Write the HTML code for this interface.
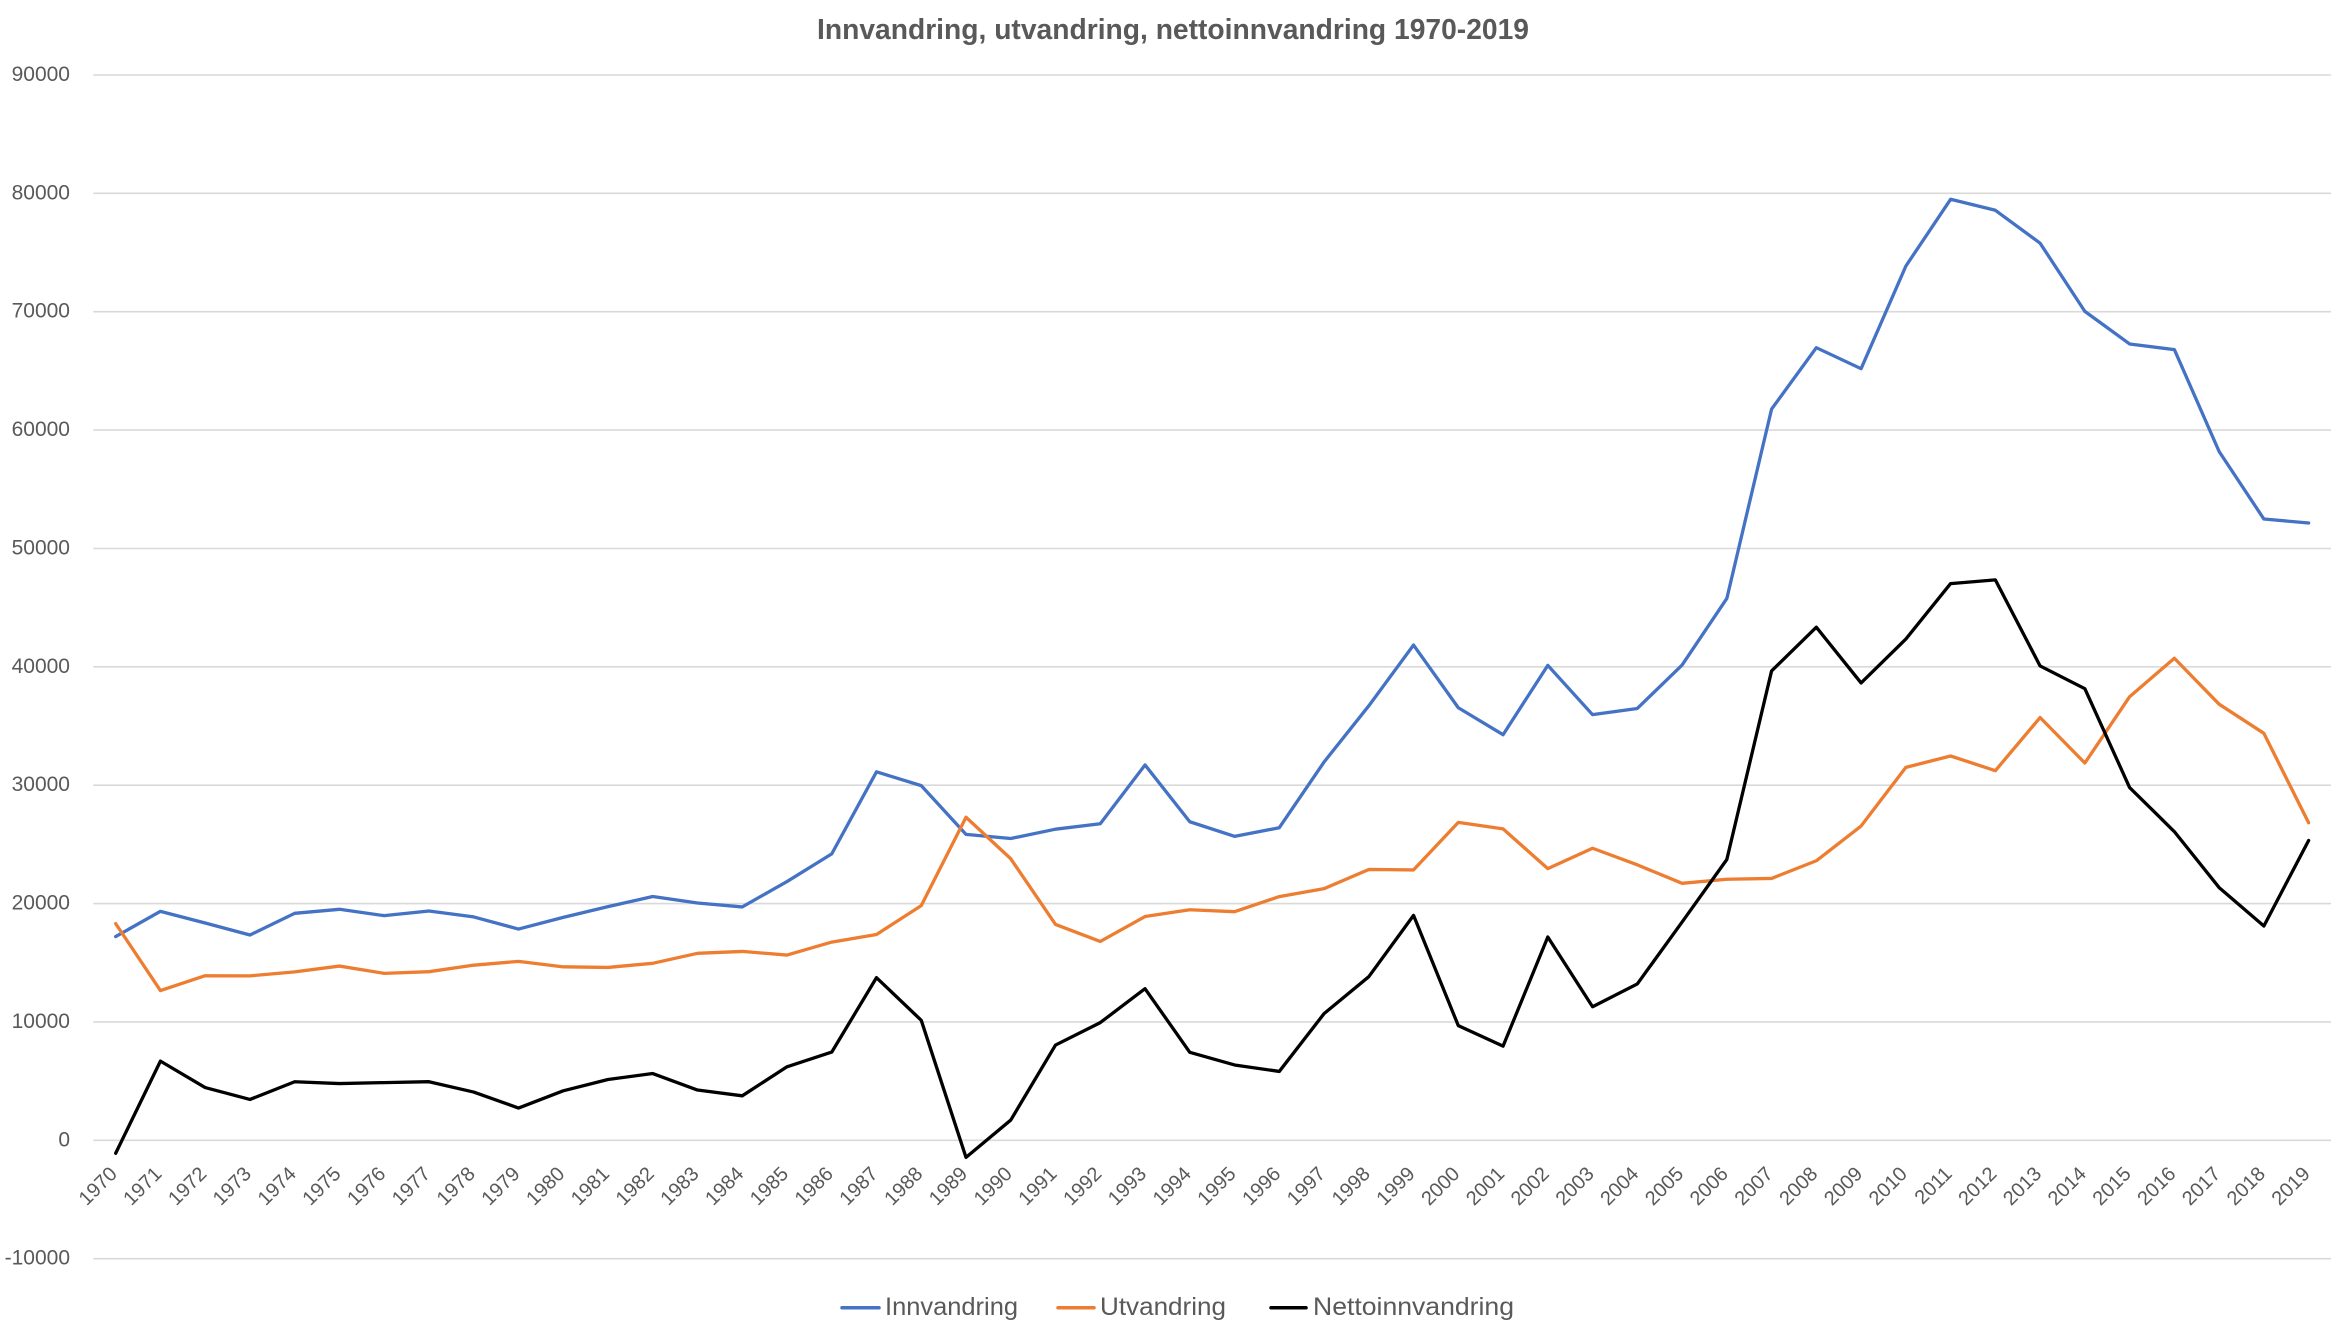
<!DOCTYPE html>
<html>
<head>
<meta charset="utf-8">
<style>
html,body{margin:0;padding:0;background:#fff;}
svg{display:block;}
</style>
</head>
<body>
<svg xmlns="http://www.w3.org/2000/svg" width="2346" height="1338" viewBox="0 0 2346 1338" font-family="'Liberation Sans', Arial, sans-serif">
<rect x="0" y="0" width="2346" height="1338" fill="#ffffff"/>

<!-- Title -->
<text x="1173" y="39" text-anchor="middle" font-weight="bold" font-size="29" fill="#595959" textLength="712" lengthAdjust="spacingAndGlyphs">Innvandring, utvandring, nettoinnvandring 1970-2019</text>

<!-- Gridlines -->
<g stroke="#D9D9D9" stroke-width="1.6">
<line x1="93.3" y1="75.0" x2="2331" y2="75.0"/>
<line x1="93.3" y1="193.3" x2="2331" y2="193.3"/>
<line x1="93.3" y1="311.7" x2="2331" y2="311.7"/>
<line x1="93.3" y1="430.1" x2="2331" y2="430.1"/>
<line x1="93.3" y1="548.5" x2="2331" y2="548.5"/>
<line x1="93.3" y1="666.8" x2="2331" y2="666.8"/>
<line x1="93.3" y1="785.2" x2="2331" y2="785.2"/>
<line x1="93.3" y1="903.6" x2="2331" y2="903.6"/>
<line x1="93.3" y1="1021.9" x2="2331" y2="1021.9"/>
<line x1="93.3" y1="1140.3" x2="2331" y2="1140.3"/>
<line x1="93.3" y1="1258.7" x2="2331" y2="1258.7"/>
</g>

<!-- Y axis labels -->
<g font-size="21" fill="#595959" text-anchor="end">
<text x="70" y="81">90000</text>
<text x="70" y="199.3">80000</text>
<text x="70" y="317.7">70000</text>
<text x="70" y="436.1">60000</text>
<text x="70" y="554.5">50000</text>
<text x="70" y="672.8">40000</text>
<text x="70" y="791.2">30000</text>
<text x="70" y="909.6">20000</text>
<text x="70" y="1027.9">10000</text>
<text x="70" y="1146.3">0</text>
<text x="70" y="1264.7">-10000</text>
</g>

<!-- Series -->
<g transform="matrix(44.754 0 0 -11.837 115.68 1140.3)" fill="none" stroke-linejoin="round" stroke-linecap="round">
<polyline vector-effect="non-scaling-stroke" stroke="#4472C4" stroke-width="3.3" points="0,17.211 1,19.341 2,18.358 3,17.342 4,19.177 5,19.515 6,18.977 7,19.373 8,18.871 9,17.844 10,18.835 11,19.743 12,20.593 13,20.045 14,19.716 15,21.860 16,24.196 17,31.128 18,29.964 19,25.847 20,25.494 21,26.283 22,26.743 23,31.711 24,26.911 25,25.678 26,26.407 27,31.957 28,36.704 29,41.841 30,36.542 31,34.264 32,40.122 33,35.957 34,36.482 35,40.148 36,45.776 37,61.774 38,66.961 39,65.186 40,73.852 41,79.498 42,78.570 43,75.789 44,70.030 45,67.276 46,66.800 47,58.192 48,52.485 49,52.153"/>
<polyline vector-effect="non-scaling-stroke" stroke="#ED7D31" stroke-width="3.3" points="0,18.306 1,12.652 2,13.904 3,13.891 4,14.229 5,14.720 6,14.103 7,14.245 8,14.795 9,15.118 10,14.655 11,14.605 12,14.953 13,15.797 14,15.957 15,15.650 16,16.745 17,17.388 18,19.827 19,27.291 20,23.784 21,18.238 22,16.801 23,18.903 24,19.475 25,19.312 26,20.590 27,21.257 28,22.881 29,22.842 30,26.854 31,26.309 32,22.948 33,24.672 34,23.271 35,21.709 36,22.053 37,22.122 38,23.615 39,26.549 40,31.506 41,32.466 42,31.227 43,35.716 44,31.875 45,37.474 46,40.724 47,36.843 48,34.382 49,26.826"/>
<polyline vector-effect="non-scaling-stroke" stroke="#000000" stroke-width="3.3" points="0,-1.095 1,6.689 2,4.454 3,3.451 4,4.948 5,4.795 6,4.874 7,4.950 8,4.076 9,2.726 10,4.180 11,5.138 12,5.640 13,4.248 14,3.759 15,6.210 16,7.451 17,13.740 18,10.137 19,-1.444 20,1.710 21,8.045 22,9.942 23,12.808 24,7.436 25,6.366 26,5.817 27,10.700 28,13.823 29,18.999 30,9.688 31,7.955 32,17.174 33,11.285 34,13.211 35,18.439 36,23.723 37,39.652 38,43.346 39,38.637 40,42.346 41,47.032 42,47.343 43,40.073 44,38.155 45,29.802 46,26.076 47,21.349 48,18.103 49,25.327"/>
</g>

<!-- X axis labels -->
<g font-size="20" fill="#595959" text-anchor="end">
<text transform="translate(118.2,1175) rotate(-45)">1970</text>
<text transform="translate(162.9,1175) rotate(-45)">1971</text>
<text transform="translate(207.7,1175) rotate(-45)">1972</text>
<text transform="translate(252.4,1175) rotate(-45)">1973</text>
<text transform="translate(297.2,1175) rotate(-45)">1974</text>
<text transform="translate(342.0,1175) rotate(-45)">1975</text>
<text transform="translate(386.7,1175) rotate(-45)">1976</text>
<text transform="translate(431.5,1175) rotate(-45)">1977</text>
<text transform="translate(476.2,1175) rotate(-45)">1978</text>
<text transform="translate(521.0,1175) rotate(-45)">1979</text>
<text transform="translate(565.7,1175) rotate(-45)">1980</text>
<text transform="translate(610.5,1175) rotate(-45)">1981</text>
<text transform="translate(655.2,1175) rotate(-45)">1982</text>
<text transform="translate(700.0,1175) rotate(-45)">1983</text>
<text transform="translate(744.7,1175) rotate(-45)">1984</text>
<text transform="translate(789.5,1175) rotate(-45)">1985</text>
<text transform="translate(834.2,1175) rotate(-45)">1986</text>
<text transform="translate(879.0,1175) rotate(-45)">1987</text>
<text transform="translate(923.8,1175) rotate(-45)">1988</text>
<text transform="translate(968.5,1175) rotate(-45)">1989</text>
<text transform="translate(1013.3,1175) rotate(-45)">1990</text>
<text transform="translate(1058.0,1175) rotate(-45)">1991</text>
<text transform="translate(1102.8,1175) rotate(-45)">1992</text>
<text transform="translate(1147.5,1175) rotate(-45)">1993</text>
<text transform="translate(1192.3,1175) rotate(-45)">1994</text>
<text transform="translate(1237.0,1175) rotate(-45)">1995</text>
<text transform="translate(1281.8,1175) rotate(-45)">1996</text>
<text transform="translate(1326.5,1175) rotate(-45)">1997</text>
<text transform="translate(1371.3,1175) rotate(-45)">1998</text>
<text transform="translate(1416.0,1175) rotate(-45)">1999</text>
<text transform="translate(1460.8,1175) rotate(-45)">2000</text>
<text transform="translate(1505.6,1175) rotate(-45)">2001</text>
<text transform="translate(1550.3,1175) rotate(-45)">2002</text>
<text transform="translate(1595.1,1175) rotate(-45)">2003</text>
<text transform="translate(1639.8,1175) rotate(-45)">2004</text>
<text transform="translate(1684.6,1175) rotate(-45)">2005</text>
<text transform="translate(1729.3,1175) rotate(-45)">2006</text>
<text transform="translate(1774.1,1175) rotate(-45)">2007</text>
<text transform="translate(1818.8,1175) rotate(-45)">2008</text>
<text transform="translate(1863.6,1175) rotate(-45)">2009</text>
<text transform="translate(1908.3,1175) rotate(-45)">2010</text>
<text transform="translate(1953.1,1175) rotate(-45)">2011</text>
<text transform="translate(1997.9,1175) rotate(-45)">2012</text>
<text transform="translate(2042.6,1175) rotate(-45)">2013</text>
<text transform="translate(2087.4,1175) rotate(-45)">2014</text>
<text transform="translate(2132.1,1175) rotate(-45)">2015</text>
<text transform="translate(2176.9,1175) rotate(-45)">2016</text>
<text transform="translate(2221.6,1175) rotate(-45)">2017</text>
<text transform="translate(2266.4,1175) rotate(-45)">2018</text>
<text transform="translate(2311.1,1175) rotate(-45)">2019</text>
</g>

<!-- Legend -->
<g stroke-width="3.5" stroke-linecap="round">
<line x1="842" y1="1307.7" x2="879" y2="1307.7" stroke="#4472C4"/>
<line x1="1058" y1="1307.7" x2="1094" y2="1307.7" stroke="#ED7D31"/>
<line x1="1271" y1="1307.7" x2="1306" y2="1307.7" stroke="#000000"/>
</g>
<g font-size="25" fill="#595959">
<text x="885" y="1315" textLength="133" lengthAdjust="spacingAndGlyphs">Innvandring</text>
<text x="1100" y="1315" textLength="126" lengthAdjust="spacingAndGlyphs">Utvandring</text>
<text x="1313" y="1315" textLength="201" lengthAdjust="spacingAndGlyphs">Nettoinnvandring</text>
</g>
</svg>
</body>
</html>
